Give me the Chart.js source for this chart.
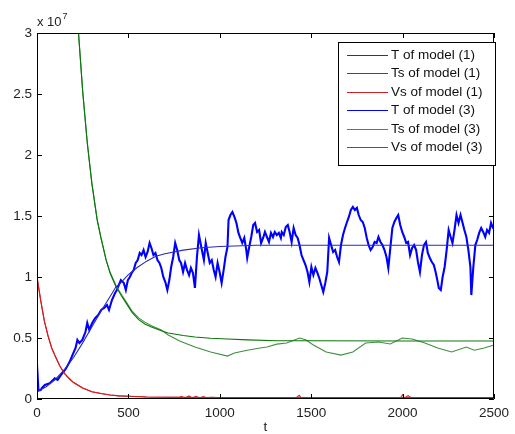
<!DOCTYPE html>
<html>
<head>
<meta charset="utf-8">
<script src="https://cdn.jsdelivr.net/npm/chart.js@4/dist/chart.umd.min.js"></script>
<style>
  html, body { margin: 0; padding: 0; background: #ffffff; }
  #c { display: block; }
</style>
</head>
<body>
<canvas id="c" width="515" height="434"></canvas>
<script>
// Values are in units of 10^7 cells; time t in days.
const xTicks = [0, 500, 1000, 1500, 2000, 2500];
const yTicks = [0, 0.5, 1, 1.5, 2, 2.5, 3];
const seriesNames = [
  'T of model (1)', 'Ts of model (1)', 'Vs of model (1)',
  'T of model (3)', 'Ts of model (3)', 'Vs of model (3)'
];

// Model (1): deterministic trajectories [t, value]
const T_model1 = [
  [0,0.06],[50,0.10],[100,0.16],[150,0.24],[200,0.34],[250,0.46],[300,0.59],[350,0.72],
  [400,0.84],[432,0.92],[450,0.94],[500,1.02],[550,1.08],[600,1.13],[650,1.17],[700,1.19],
  [800,1.22],[900,1.24],[1000,1.25],[1200,1.26],[1500,1.26],[2000,1.26],[2500,1.26]
];
const Ts_model1 = [
  [0,12],[100,8.8],[150,5.6],[200,3.7],[227,3.0],[250,2.52],[275,2.1],[300,1.77],[329,1.47],
  [350,1.32],[378,1.14],[400,1.03],[432,0.92],[460,0.85],[486,0.79],[520,0.71],[556,0.65],
  [590,0.615],[626,0.59],[680,0.56],[718,0.541],[800,0.52],[864,0.508],[950,0.498],
  [1042,0.492],[1150,0.485],[1312,0.478],[1500,0.477],[2000,0.476],[2500,0.476]
];
const Vs_model1 = [
  [0,1.0],[20,0.81],[40,0.64],[60,0.52],[80,0.42],[100,0.35],[125,0.27],[150,0.21],
  [175,0.17],[200,0.135],[250,0.09],[300,0.06],[350,0.045],[400,0.033],[450,0.026],
  [500,0.022],[600,0.016],[800,0.013],[1000,0.012],[1500,0.012],[2000,0.012],[2500,0.012]
];

// Model (3): stochastic trajectories [t, value]
const T_model3 = [
  [0,0.28],[8,0.07],[20,0.074],[27,0.09],[43,0.115],[70,0.13],[97,0.17],[113,0.156],
  [135,0.205],[157,0.246],[178,0.303],[194,0.36],[211,0.418],[221,0.484],[232,0.459],
  [248,0.484],[265,0.549],[275,0.623],[286,0.566],[302,0.623],[319,0.664],[335,0.689],
  [351,0.73],[367,0.746],[383,0.77],[394,0.73],[410,0.811],[427,0.869],[437,0.893],
  [443,0.918],[459,0.975],[475,0.951],[486,0.893],[497,0.975],[508,1.0],[518,1.033],
  [529,1.057],[540,1.115],[551,1.139],[562,1.197],[572,1.18],[583,1.221],[594,1.164],
  [605,1.205],[616,1.279],[626,1.238],[637,1.18],[648,1.197],[659,1.139],[670,1.115],
  [680,1.074],[691,1.0],[702,0.959],[713,0.893],[724,0.975],[734,1.082],[745,1.164],
  [756,1.279],[767,1.221],[778,1.139],[788,1.115],[799,1.041],[810,1.115],[821,1.057],
  [832,1.016],[842,1.074],[853,1.033],[864,0.91],[875,1.164],[886,1.344],[902,1.221],
  [913,1.139],[923,1.279],[934,1.197],[945,1.115],[956,1.139],[967,1.057],[977,1.0],
  [988,1.115],[999,1.041],[1010,0.951],[1021,1.057],[1031,1.164],[1042,1.246],[1048,1.467],
  [1058,1.508],[1069,1.533],[1080,1.492],[1091,1.443],[1102,1.361],[1112,1.32],[1123,1.279],
  [1134,1.32],[1145,1.221],[1150,1.156],[1161,1.246],[1172,1.328],[1183,1.426],[1193,1.443],
  [1204,1.369],[1215,1.385],[1226,1.279],[1237,1.32],[1247,1.369],[1258,1.328],[1269,1.287],
  [1280,1.361],[1291,1.328],[1301,1.369],[1312,1.344],[1323,1.361],[1334,1.32],[1339,1.369],
  [1350,1.344],[1361,1.41],[1372,1.426],[1382,1.369],[1393,1.287],[1404,1.402],[1415,1.344],
  [1426,1.32],[1436,1.262],[1447,1.18],[1458,1.139],[1469,1.098],[1480,1.041],[1490,0.959],
  [1501,1.082],[1512,1.016],[1523,1.074],[1534,1.033],[1544,0.992],[1555,0.934],[1566,0.877],
  [1577,0.951],[1588,1.041],[1598,1.32],[1609,1.262],[1620,1.205],[1631,1.221],[1642,1.164],
  [1652,1.123],[1663,1.262],[1674,1.344],[1685,1.402],[1696,1.451],[1706,1.492],[1717,1.549],
  [1728,1.574],[1739,1.549],[1750,1.566],[1760,1.508],[1771,1.467],[1782,1.451],[1793,1.402],
  [1804,1.32],[1814,1.262],[1825,1.221],[1836,1.246],[1847,1.287],[1858,1.279],[1868,1.328],
  [1879,1.287],[1890,1.262],[1901,1.221],[1912,1.164],[1922,1.074],[1933,1.238],[1944,1.402],
  [1955,1.451],[1966,1.484],[1976,1.508],[1987,1.426],[1998,1.369],[2009,1.328],[2020,1.279],
  [2030,1.287],[2041,1.18],[2052,1.238],[2063,1.262],[2074,1.221],[2084,1.123],[2095,1.041],
  [2106,1.18],[2117,1.262],[2128,1.287],[2138,1.197],[2149,1.156],[2160,1.123],[2171,1.098],
  [2182,1.033],[2192,0.959],[2198,0.91],[2209,0.893],[2219,1.0],[2230,1.082],[2241,1.221],
  [2252,1.385],[2263,1.328],[2273,1.279],[2284,1.385],[2295,1.508],[2306,1.443],[2317,1.508],
  [2327,1.451],[2338,1.385],[2349,1.328],[2360,1.221],[2371,1.082],[2376,0.852],[2387,1.082],
  [2398,1.262],[2408,1.303],[2419,1.361],[2430,1.402],[2441,1.369],[2452,1.328],[2462,1.385],
  [2473,1.361],[2484,1.443],[2495,1.402],[2500,1.426]
];
const Ts_model3 = [
  [0,12],[100,8.8],[150,5.6],[200,3.7],[227,3.0],[250,2.52],[275,2.1],[300,1.77],[329,1.47],
  [350,1.32],[378,1.14],[400,1.04],[432,0.93],[460,0.86],[486,0.80],[520,0.72],[556,0.665],
  [590,0.63],[626,0.60],[680,0.565],[718,0.525],[780,0.475],[864,0.426],[950,0.385],
  [1042,0.352],[1080,0.377],[1150,0.40],[1220,0.418],[1258,0.426],[1312,0.45],[1366,0.459],
  [1436,0.50],[1470,0.485],[1512,0.443],[1582,0.385],[1663,0.36],[1728,0.385],[1798,0.459],
  [1868,0.467],[1933,0.451],[1998,0.50],[2052,0.492],[2122,0.459],[2192,0.418],[2268,0.385],
  [2349,0.426],[2392,0.40],[2446,0.418],[2500,0.443]
];
const Vs_model3 = [
  [0,1.0],[20,0.81],[40,0.64],[60,0.52],[80,0.42],[100,0.35],[125,0.27],[150,0.21],
  [175,0.17],[200,0.135],[250,0.09],[300,0.06],[350,0.045],[400,0.033],[450,0.026],
  [500,0.022],[600,0.016],[780,0.013],[790,0.022],[810,0.006],[830,0.025],[850,0.008],
  [870,0.022],[890,0.006],[910,0.02],[930,0.008],[950,0.014],[1000,0.012],[1420,0.012],
  [1435,0.03],[1445,0.01],[1990,0.012],[2000,0.035],[2010,0.008],[2030,0.028],[2045,0.012],
  [2500,0.012]
];

const colT1 = '#2a2ab4', colTs1 = '#0a760a', colVs1 = '#d22020';
const colT3 = '#0000ff', colTs3 = '#3f8f3f', colVs3 = '#d42222';
const FONT = '"Liberation Sans", Arial, Helvetica, sans-serif';

const toPts = arr => arr.map(p => ({ x: p[0], y: p[1] }));

function lineSet(label, arr, color, width, order) {
  return {
    label, data: toPts(arr), borderColor: color, backgroundColor: color,
    borderWidth: width, pointRadius: 0, tension: 0, fill: false, order
  };
}

// MATLAB-style frame: full box with inward tick marks and the exponent label
const framePlugin = {
  id: 'frame',
  afterDatasetsDraw(chart) {
    const { ctx, chartArea: a, scales: { x, y } } = chart;
    ctx.save();
    ctx.strokeStyle = '#000';
    ctx.lineWidth = 1;
    ctx.beginPath();
    ctx.rect(Math.round(a.left) + 0.5, Math.round(a.top) + 0.5,
             Math.round(a.right - a.left) - 1, Math.round(a.bottom - a.top) - 1);
    ctx.stroke();
    const L = 5;
    ctx.beginPath();
    xTicks.forEach(v => {
      const px = Math.round(x.getPixelForValue(v)) + 0.5;
      ctx.moveTo(px, a.bottom); ctx.lineTo(px, a.bottom - L);
      ctx.moveTo(px, a.top); ctx.lineTo(px, a.top + L);
    });
    yTicks.forEach(v => {
      const py = Math.round(y.getPixelForValue(v)) + 0.5;
      ctx.moveTo(a.left, py); ctx.lineTo(a.left + L, py);
      ctx.moveTo(a.right, py); ctx.lineTo(a.right - L, py);
    });
    ctx.stroke();

    ctx.fillStyle = '#222';
    ctx.textBaseline = 'alphabetic';
    ctx.textAlign = 'left';
    ctx.font = '13px ' + FONT;
    ctx.fillText('x 10', a.left, a.top - 7);
    const w = ctx.measureText('x 10').width;
    ctx.font = '9px ' + FONT;
    ctx.fillText('7', a.left + w + 1, a.top - 14);
    ctx.restore();
  },
  // inset legend box in the upper right of the plot
  afterDraw(chart) {
    const { ctx } = chart;
    const bx = 338, by = 42, bw = 157, bh = 123;
    ctx.save();
    ctx.fillStyle = '#ffffff';
    ctx.fillRect(bx, by, bw, bh);
    ctx.strokeStyle = '#000000';
    ctx.lineWidth = 1;
    ctx.strokeRect(bx + 0.5, by + 0.5, bw, bh);
    ctx.font = '13.5px ' + FONT;
    ctx.textBaseline = 'middle';
    ctx.textAlign = 'left';
    chart.data.datasets.forEach((ds, i) => {
      const ry = Math.round(by + 13 + i * 18.4) + 0.5;
      ctx.strokeStyle = ds.borderColor;
      ctx.lineWidth = 1;
      ctx.beginPath();
      ctx.moveTo(bx + 9, ry);
      ctx.lineTo(bx + 50, ry);
      ctx.stroke();
      ctx.fillStyle = '#111111';
      ctx.fillText(ds.label, bx + 53, ry);
    });
    ctx.restore();
  }
};

new Chart(document.getElementById('c'), {
  type: 'line',
  data: {
    datasets: [
      lineSet(seriesNames[0], T_model1, colT1, 1.1, 0),
      lineSet(seriesNames[1], Ts_model1, colTs1, 1.1, 1),
      lineSet(seriesNames[2], Vs_model1, colVs1, 1.1, 2),
      lineSet(seriesNames[3], T_model3, colT3, 2.1, 5),
      lineSet(seriesNames[4], Ts_model3, colTs3, 1.1, 3),
      lineSet(seriesNames[5], Vs_model3, colVs3, 1.1, 4)
    ]
  },
  options: {
    responsive: false,
    animation: false,
    devicePixelRatio: 1,
    layout: { padding: { top: 33, right: 15, bottom: 0, left: 0 } },
    plugins: { legend: { display: false }, tooltip: { enabled: false } },
    scales: {
      x: {
        type: 'linear', min: 0, max: 2500,
        afterBuildTicks: s => { s.ticks = xTicks.map(v => ({ value: v })); },
        afterFit: s => { s.height = 35; },
        grid: { display: false, drawTicks: false },
        border: { display: false },
        ticks: {
          callback: v => String(v), autoSkip: false, maxRotation: 0,
          color: '#222', padding: 6, font: { family: FONT, size: 13.5 }
        },
        title: {
          display: true, text: 't', color: '#222',
          font: { family: FONT, size: 13.5 }, padding: { top: 0, bottom: -1 }
        }
      },
      y: {
        type: 'linear', min: 0, max: 3,
        afterBuildTicks: s => { s.ticks = yTicks.map(v => ({ value: v })); },
        afterFit: s => { s.width = 37; },
        grid: { display: false, drawTicks: false },
        border: { display: false },
        ticks: {
          callback: v => String(v), color: '#222', padding: 5,
          font: { family: FONT, size: 13.5 }
        }
      }
    }
  },
  plugins: [framePlugin]
});
</script>
</body>
</html>
